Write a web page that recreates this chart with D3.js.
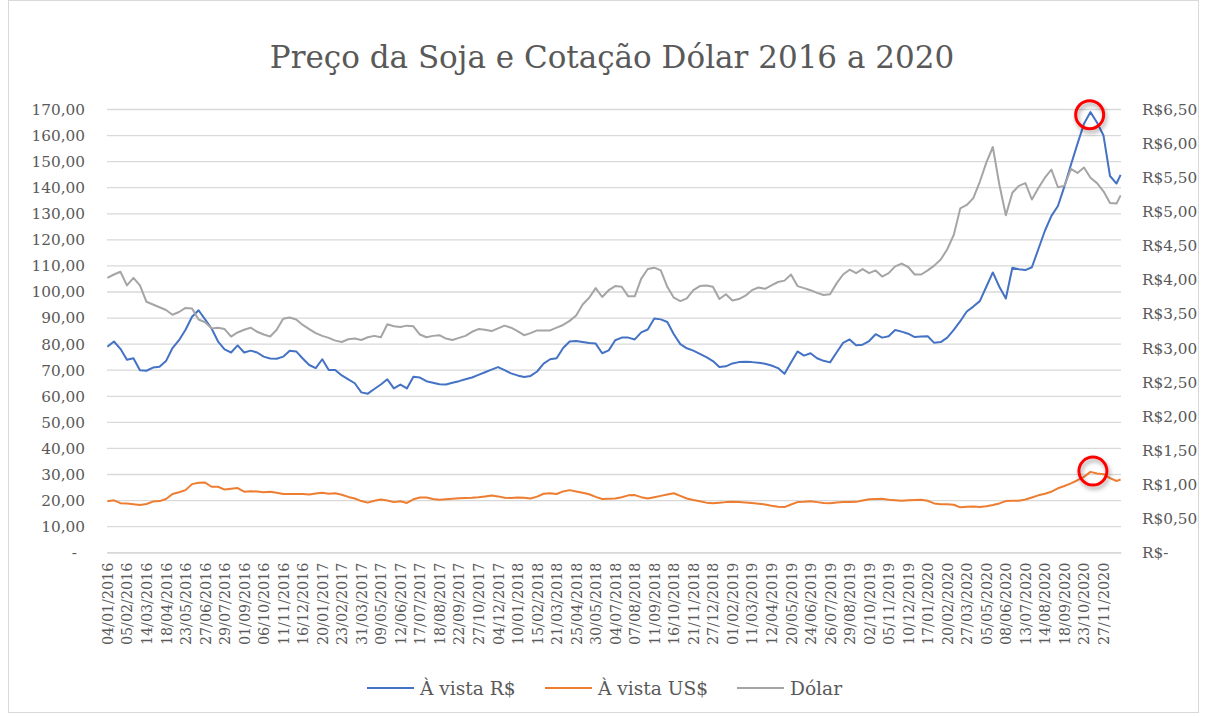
<!DOCTYPE html>
<html>
<head>
<meta charset="utf-8">
<script src="https://cdn.jsdelivr.net/npm/d3@7"></script>
<style>
  body { margin: 0; background: #fff; }
  svg { display: block; }
  text { font-family: "DejaVu Serif", serif; fill: #595959; }
</style>
</head>
<body>
<svg id="chart" width="1206" height="717"></svg>
<script>
// rótulos do eixo de categorias (um a cada 24 pregões)
const rotulosData = [
  "04/01/2016","05/02/2016","14/03/2016","18/04/2016","23/05/2016","27/06/2016","29/07/2016","01/09/2016","06/10/2016","11/11/2016","16/12/2016",
  "20/01/2017","23/02/2017","31/03/2017","09/05/2017","12/06/2017","17/07/2017","18/08/2017","22/09/2017","27/10/2017","04/12/2017",
  "10/01/2018","15/02/2018","21/03/2018","25/04/2018","30/05/2018","04/07/2018","07/08/2018","11/09/2018","16/10/2018","21/11/2018","27/12/2018",
  "01/02/2019","11/03/2019","12/04/2019","20/05/2019","24/06/2019","26/07/2019","29/08/2019","02/10/2019","05/11/2019","10/12/2019",
  "17/01/2020","20/02/2020","27/03/2020","05/05/2020","08/06/2020","13/07/2020","14/08/2020","18/09/2020","23/10/2020","27/11/2020"
];
const diasEntreRotulos = 24;
const totalDias = 1246;

// pregões amostrados (a cada 8 dias) e último dia
const diaAmostra = d3.range(0, 1241, 8).concat([1245]);

// À vista R$ (eixo esquerdo)
const avistaReal = [
  79.0,81.0,78.2,74.0,74.6,70.0,69.8,71.0,71.3,73.5,
  78.5,81.5,85.5,90.5,93.0,89.5,86.0,81.0,78.0,76.8,
  79.5,76.8,77.5,76.8,75.2,74.5,74.4,75.2,77.5,77.2,
  74.5,72.0,70.8,74.2,70.1,70.1,68.0,66.5,65.0,61.5,
  61.0,62.8,64.5,66.5,63.0,64.5,63.0,67.5,67.2,65.8,
  65.2,64.6,64.5,65.2,65.8,66.5,67.2,68.2,69.2,70.2,
  71.2,70.0,68.8,68.0,67.4,67.8,69.5,72.5,74.2,74.6,
  78.5,81.0,81.2,80.8,80.4,80.2,76.5,77.6,81.5,82.5,
  82.5,81.8,84.5,85.6,89.8,89.5,88.5,83.8,80.0,78.4,
  77.5,76.3,75.0,73.5,71.2,71.5,72.6,73.1,73.2,73.1,
  72.9,72.5,71.8,70.8,68.6,73.0,77.2,75.6,76.5,74.6,
  73.6,73.0,76.8,80.5,81.8,79.6,79.8,81.2,83.8,82.5,
  83.0,85.4,84.8,84.0,82.7,82.9,83.0,80.5,80.8,82.5,
  85.5,88.8,92.5,94.4,96.5,102.0,107.5,102.0,97.5,109.3,
  108.7,108.4,109.5,116.5,123.5,129.2,133.0,140.5,148.8,156.8,
  164.5,169.0,165.0,160.0,144.5,141.6,144.9
];

// À vista US$ (eixo esquerdo)
const avistaDolar = [
  19.7,20.1,19.0,18.9,18.6,18.3,18.7,19.6,19.8,20.6,
  22.5,23.2,24.0,26.3,26.8,26.9,25.3,25.3,24.2,24.5,
  24.8,23.4,23.6,23.5,23.2,23.4,23.0,22.5,22.5,22.5,
  22.5,22.3,22.7,23.0,22.6,22.8,22.2,21.4,20.8,19.8,
  19.2,19.9,20.4,20.0,19.4,19.7,19.1,20.5,21.2,21.2,
  20.6,20.3,20.5,20.7,20.9,21.0,21.1,21.3,21.6,21.9,
  21.6,21.1,21.0,21.2,21.1,20.8,21.5,22.6,22.8,22.5,
  23.5,24.0,23.5,23.0,22.4,21.4,20.6,20.7,20.8,21.3,
  22.0,22.1,21.3,20.8,21.3,21.8,22.3,22.8,21.8,20.8,
  20.2,19.7,19.2,19.0,19.2,19.4,19.5,19.4,19.3,19.1,
  18.8,18.5,18.0,17.6,17.5,18.5,19.4,19.5,19.7,19.4,
  19.1,19.0,19.3,19.4,19.4,19.5,20.0,20.5,20.6,20.7,
  20.3,20.1,19.9,20.1,20.2,20.3,19.9,18.9,18.6,18.6,
  18.4,17.4,17.6,17.7,17.5,17.8,18.3,18.9,19.8,19.9,
  19.9,20.4,21.2,22.0,22.6,23.4,24.7,25.6,26.6,27.8,
  29.1,31.0,30.4,30.1,28.6,27.5,28.1
];

// Dólar em R$ (eixo direito)
const cotacaoDolar = [
  4.03,4.08,4.12,3.92,4.03,3.92,3.68,3.64,3.60,3.56,
  3.49,3.53,3.59,3.58,3.42,3.38,3.29,3.30,3.28,3.17,
  3.23,3.27,3.30,3.24,3.20,3.17,3.27,3.43,3.45,3.42,
  3.34,3.28,3.22,3.18,3.15,3.11,3.09,3.13,3.14,3.12,
  3.16,3.18,3.16,3.35,3.32,3.31,3.33,3.32,3.20,3.16,
  3.18,3.19,3.14,3.12,3.15,3.18,3.24,3.28,3.27,3.25,
  3.29,3.33,3.30,3.25,3.19,3.22,3.26,3.26,3.26,3.30,
  3.34,3.40,3.48,3.64,3.74,3.88,3.75,3.85,3.91,3.90,
  3.76,3.76,4.02,4.16,4.18,4.14,3.90,3.74,3.69,3.73,
  3.85,3.91,3.92,3.90,3.72,3.79,3.70,3.72,3.77,3.85,
  3.89,3.87,3.92,3.97,3.99,4.08,3.91,3.88,3.85,3.81,
  3.78,3.79,3.95,4.08,4.15,4.10,4.16,4.10,4.14,4.05,
  4.10,4.20,4.24,4.19,4.08,4.08,4.14,4.21,4.30,4.45,
  4.66,5.05,5.10,5.20,5.44,5.72,5.95,5.40,4.95,5.28,
  5.38,5.42,5.18,5.35,5.50,5.62,5.36,5.38,5.63,5.57,
  5.65,5.50,5.42,5.30,5.13,5.12,5.24
];

const ticksEsq = d3.range(0, 171, 10);
const ticksDir = d3.range(0, 14).map(i => i * 0.5);

// máximos destacados com círculo vermelho
const destaqueDia = [1207, 1211];
const destaqueValor = [168, 31.3];

const series = [
  { nome: "À vista R$", valores: avistaReal, cor: "#4472C4", eixo: "esq" },
  { nome: "À vista US$", valores: avistaDolar, cor: "#ED7D31", eixo: "esq" },
  { nome: "Dólar", valores: cotacaoDolar, cor: "#A5A5A5", eixo: "dir" }
];

const W = 1206, H = 717;
const plot = { left: 107, right: 1121, top: 109.5, bottom: 552.7 };

const svg = d3.select("#chart");
svg.append("rect").attr("width", W).attr("height", H).attr("fill", "#fff");
svg.append("rect")
  .attr("x", 8.5).attr("y", 0.5).attr("width", 1190).attr("height", 712)
  .attr("fill", "none").attr("stroke", "#d9d9d9");

const locale = d3.formatLocale({ decimal: ",", thousands: ".", grouping: [3], currency: ["R$", ""] });
const fmt2 = locale.format(".2f");

const x = d3.scaleLinear().domain([-0.5, totalDias - 0.5]).range([plot.left, plot.right]);
const yEsq = d3.scaleLinear().domain([0, 170]).range([plot.bottom, plot.top]);
const yDir = d3.scaleLinear().domain([0, 6.5]).range([plot.bottom, plot.top]);

// título
svg.append("text")
  .attr("x", 612).attr("y", 68)
  .attr("text-anchor", "middle")
  .style("font-size", "31px")
  .text("Preço da Soja e Cotação Dólar 2016 a 2020");

// linhas de grade
svg.append("g")
  .selectAll("line")
  .data(ticksEsq)
  .join("line")
  .attr("x1", plot.left).attr("x2", plot.right)
  .attr("y1", d => yEsq(d)).attr("y2", d => yEsq(d))
  .attr("stroke", "#d9d9d9").attr("stroke-width", 1.3);

// eixo esquerdo
const gEsq = svg.append("g")
  .attr("transform", "translate(" + plot.left + ",0)")
  .call(d3.axisLeft(yEsq).tickValues(ticksEsq).tickSize(0).tickPadding(22)
    .tickFormat(d => d === 0 ? "-" : fmt2(d)));
gEsq.select(".domain").remove();
gEsq.selectAll("text").style("font-size", "15.3px");
gEsq.selectAll("text").filter(d => d === 0).attr("dx", -8);

// eixo direito
const gDir = svg.append("g")
  .attr("transform", "translate(" + plot.right + ",0)")
  .call(d3.axisRight(yDir).tickValues(ticksDir).tickSize(0).tickPadding(21)
    .tickFormat(d => d === 0 ? "R$-" : "R$" + fmt2(d)));
gDir.select(".domain").remove();
gDir.selectAll("text").style("font-size", "15.3px");

// eixo das datas
const gX = svg.append("g")
  .attr("transform", "translate(0," + plot.bottom + ")")
  .call(d3.axisBottom(x)
    .tickValues(rotulosData.map((d, i) => i * diasEntreRotulos))
    .tickSize(0).tickSizeOuter(0)
    .tickFormat((d, i) => rotulosData[i]));
gX.select(".domain").attr("stroke", "#d9d9d9").attr("stroke-width", 1.3);
gX.selectAll("text")
  .style("font-size", "14.3px")
  .attr("text-anchor", "end")
  .attr("transform", "rotate(-90)")
  .attr("x", -10).attr("y", 0).attr("dy", "0.35em");

// séries
series.forEach(s => {
  const y = s.eixo === "esq" ? yEsq : yDir;
  const linha = d3.line()
    .x((d, i) => x(diaAmostra[i]))
    .y(d => y(d));
  svg.append("path")
    .datum(s.valores)
    .attr("d", linha)
    .attr("fill", "none")
    .attr("stroke", s.cor)
    .attr("stroke-width", 2)
    .attr("stroke-linejoin", "round");
});

// círculos de destaque
const defs = svg.append("defs");
defs.append("filter").attr("id", "sombra")
  .attr("x", "-50%").attr("y", "-50%").attr("width", "200%").attr("height", "200%")
  .append("feDropShadow")
  .attr("dx", 1.5).attr("dy", 3).attr("stdDeviation", 2)
  .attr("flood-color", "#000").attr("flood-opacity", 0.35);

svg.append("g")
  .selectAll("circle")
  .data(destaqueDia)
  .join("circle")
  .attr("cx", d => x(d))
  .attr("cy", (d, i) => yEsq(destaqueValor[i]))
  .attr("r", 14)
  .attr("fill", "none")
  .attr("stroke", "#ff0000")
  .attr("stroke-width", 3)
  .attr("filter", "url(#sombra)");

// legenda
const legX = [367, 545, 737];
const leg = svg.append("g")
  .selectAll("g")
  .data(series)
  .join("g")
  .attr("transform", (d, i) => "translate(" + legX[i] + ",688)");
leg.append("line")
  .attr("x1", 0).attr("x2", 47)
  .attr("stroke", d => d.cor).attr("stroke-width", 2.2);
leg.append("text")
  .attr("x", 53).attr("dy", "0.35em")
  .style("font-size", "18.6px")
  .text(d => d.nome);
</script>
</body>
</html>
